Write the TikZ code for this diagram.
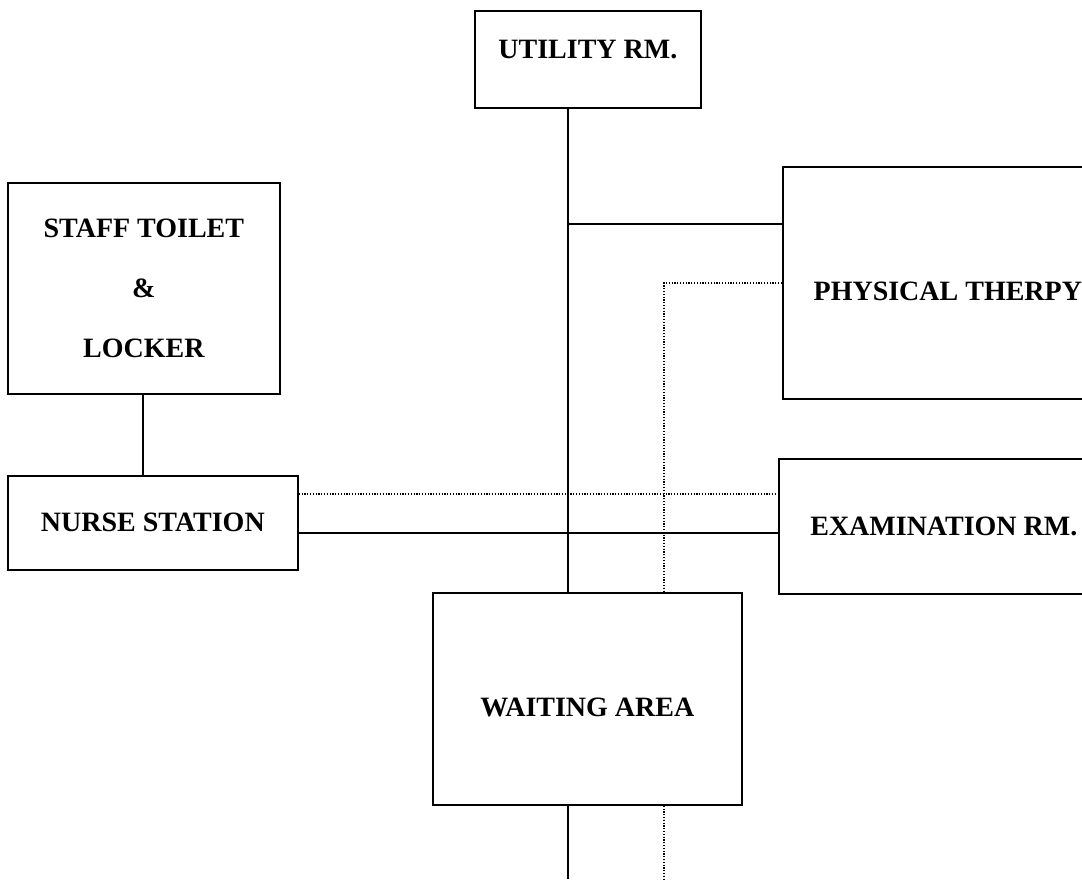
\documentclass[tikz,border=0pt]{standalone}
\usepackage{fontspec}
\setmainfont{Liberation Serif}

\begin{document}
\begin{tikzpicture}[x=1pt, y=-1pt,
  every node/.style={font=\fontsize{28}{60}\selectfont\bfseries},
  room/.style={draw, line width=1.7pt, rectangle, anchor=north west, inner sep=0pt, align=center},
  wall/.style={line width=1.3pt},
  dots/.style={line width=1.4pt, dash pattern=on 1.2pt off 1.6pt}]

\useasboundingbox (0,0) rectangle (1082,879);
\clip (0,0) rectangle (1082,879);

\node[room, minimum width=226pt, minimum height=97pt] (utility) at (474,10) {\raisebox{10pt}[\height][\depth]{UTILITY RM.}};
\node[room, minimum width=272pt, minimum height=211pt] (staff) at (7,182) {STAFF TOILET\\\&\\LOCKER};
\node[room, minimum width=290pt, minimum height=94pt] (nurse) at (7,475) {NURSE STATION};
\node[room, minimum width=330pt, minimum height=232pt] (physical) at (782,166) {\raisebox{-9pt}[\height][\depth]{PHYSICAL THERPY}};
\node[room, minimum width=330pt, minimum height=135pt] (exam) at (778,458) {EXAMINATION RM.};
\node[room, minimum width=309pt, minimum height=212pt] (waiting) at (432,592) {\raisebox{-9pt}[\height][\depth]{WAITING AREA}};

% corridor bends and open ends
\coordinate (tee) at (568,224);
\coordinate (bend) at (664,283);
\coordinate (out1) at (568,879);
\coordinate (out2) at (664,879);

\draw[wall] (staff.south -| 143,0) -- (nurse.north -| 143,0);
\draw[wall] (utility.south -| tee) -- (tee) -- (tee |- waiting.north);
\draw[wall] (tee) -- (tee -| physical.west);
\draw[dots] (bend -| physical.west) -- (bend) -- (bend |- waiting.north);
\draw[dots] (nurse.east |- 0,494) -- (exam.west |- 0,494);
\draw[wall] (nurse.east |- 0,533) -- (exam.west |- 0,533);
\draw[wall] (waiting.south -| out1) -- (out1);
\draw[dots] (waiting.south -| out2) -- (out2);
\end{tikzpicture}
\end{document}
